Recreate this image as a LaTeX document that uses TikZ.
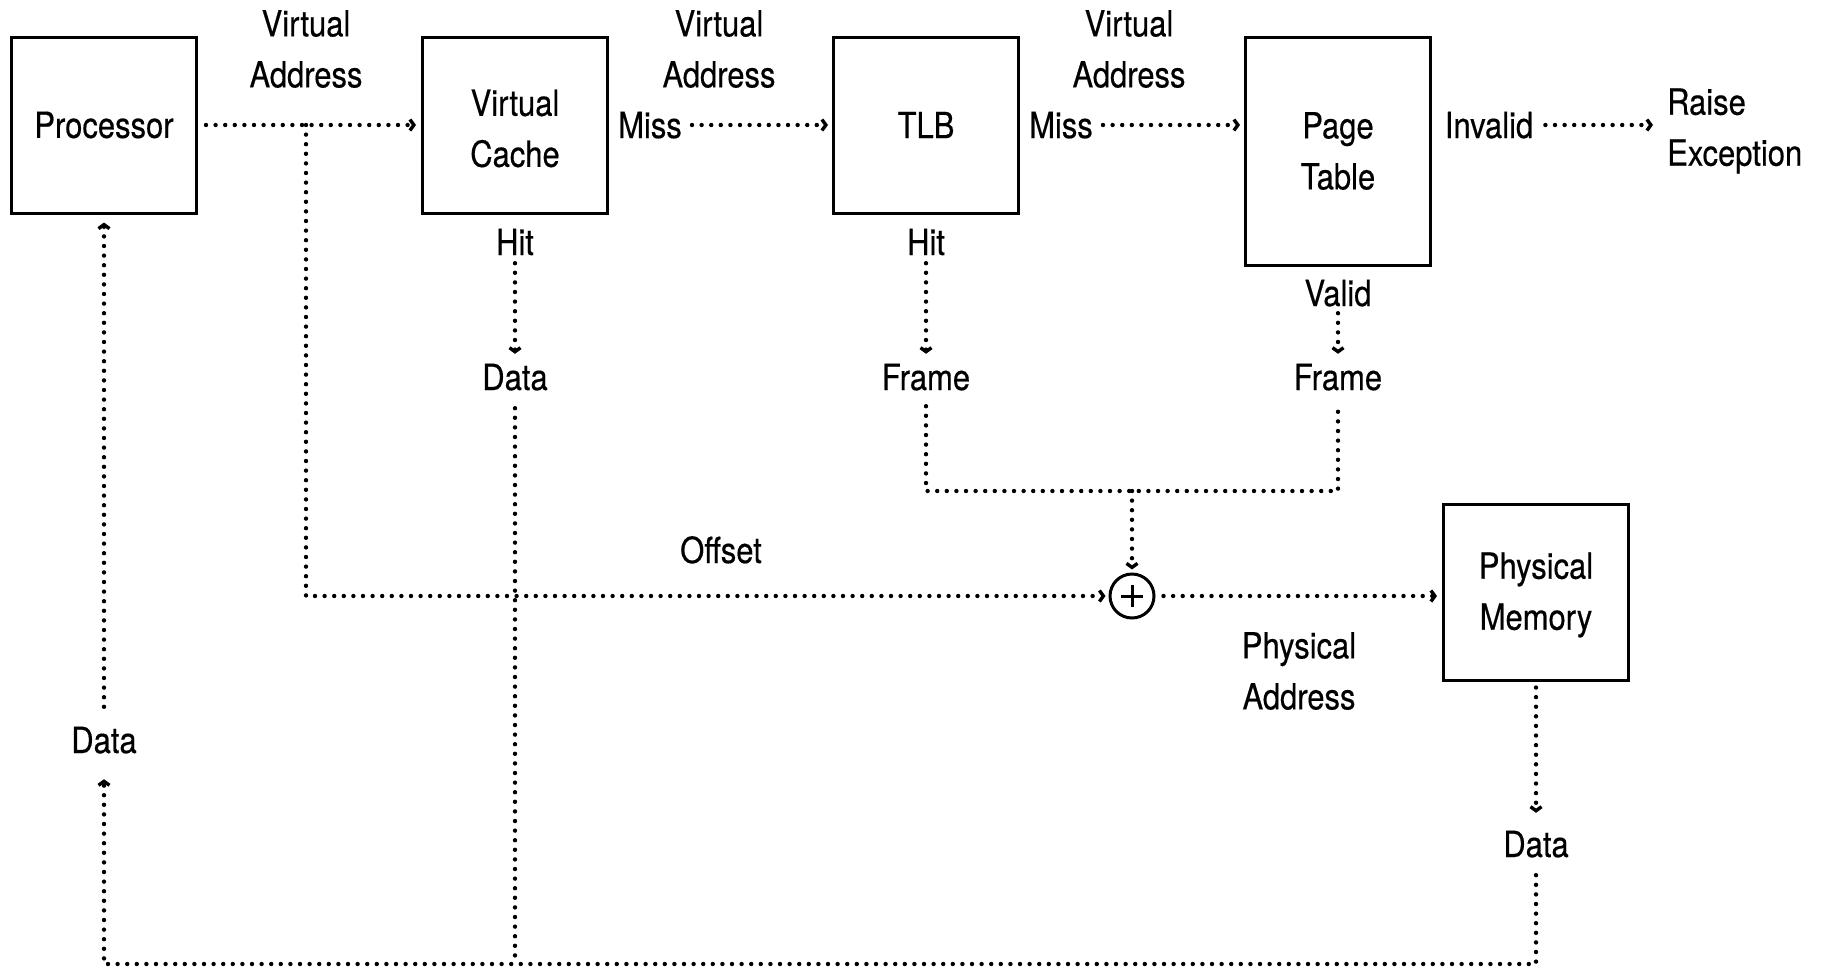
\documentclass[tikz,border=0pt]{standalone}
\usepackage{fontspec}
\setmainfont{TeX Gyre Heros}[FakeStretch=0.86,FakeBold=0.4]
\usetikzlibrary{arrows.meta}
\begin{document}
\begin{tikzpicture}[x=1pt,y=-1pt,
 every node/.style={font=\fontsize{36}{51}\selectfont},
 box/.style={draw,line width=3pt,minimum width=185pt,minimum height=176pt,inner sep=0pt,align=center},
 lbl/.style={inner sep=0pt,align=center},
 one/.style={inner sep=0pt,text height=26pt,text depth=0pt},
 con/.style={line width=4.4pt,line cap=round,dash pattern=on 0pt off 9.6pt},
 arr/.style={con,-{Straight Barb[length=4pt,width=11pt,line width=3.4pt]}}]
\useasboundingbox (0,0) rectangle (1830,969);
% boxes
\node[box] (proc) at (104,125) {Processor};
\node[box,label={[lbl,yshift=-3.5pt]center:Virtual\\Cache}] (vc) at (515,125) {};
\node[box] (tlb) at (926,125) {TLB};
\node[box,minimum height=228pt] (pt) at (1338,151) {Page\\Table};
\node[box,label={[lbl,yshift=-3pt]center:Physical\\Memory}] (pm) at (1536,592) {};
% labels
\node[lbl] (va1) at (306,49) {Virtual\\Address};
\node[lbl] (va2) at (719,49) {Virtual\\Address};
\node[lbl] (va3) at (1129,49) {Virtual\\Address};
\node[one] (miss1) at (650,125) {Miss};
\node[one] (miss2) at (1061,125) {Miss};
\node[one] (inv) at (1489,125) {Invalid};
\node[lbl,align=left,anchor=west] (exc) at (1667,131) {Raise\\Exception};
\node[one] (hit1) at (515,242) {Hit};
\node[one] (data1) at (515,377) {Data};
\node[one] (hit2) at (926,242) {Hit};
\node[one] (fr1) at (926,377) {Frame};
\node[one] (valid) at (1338,293) {Valid};
\node[one] (fr2) at (1338,377) {Frame};
\node[one] (off) at (721,550) {Offset};
\node[lbl] (pa) at (1299,671) {Physical\\Address};
\node[one] (data2) at (1536,844) {Data};
\node[one] (data3) at (104,740) {Data};
\node[draw,circle,line width=3pt,minimum size=44pt,inner sep=0pt] (plus) at (1132,596) {};
\draw[line width=3pt] ([xshift=-11pt]plus.center) -- ([xshift=11pt]plus.center)
  ([yshift=-11pt]plus.center) -- ([yshift=11pt]plus.center);
% coordinates
\coordinate (br) at (306,125);
\coordinate (j) at (1132,491);
\coordinate (bl) at (104,964);
% connectors
\draw[arr,shorten <=8pt,shorten >=5pt] (proc.east) -- (vc.west);
\draw[arr,shorten <=10pt,shorten >=4pt] (miss1.east) -- (tlb.west);
\draw[arr,shorten <=10pt,shorten >=4pt] (miss2.east) -- (pt.west |- miss2.east);
\draw[arr,shorten <=12pt,shorten >=14pt] (inv.east) -- (exc.west |- inv.east);
\draw[arr,shorten >=3pt] (br) |- (plus.west);
\draw[arr,shorten <=8pt,shorten >=10pt] (hit1.south) -- (data1.north);
\draw[arr,shorten <=8pt,shorten >=10pt] (hit2.south) -- (fr1.north);
\draw[arr,shorten <=7pt,shorten >=10pt] (valid.south) -- (fr2.north);
\draw[con,shorten <=16pt,shorten >=16pt] (fr1.south) |- (j) -| (fr2.south);
\draw[arr,shorten >=3pt] (j) -- (plus.north);
\draw[arr,shorten <=8pt,shorten >=5pt] (plus.east) -- (pm.west |- plus.east);
\draw[arr,shorten <=6pt,shorten >=18pt] (pm.south) -- (data2.north);
\draw[arr,shorten <=18pt,shorten >=26pt] (data2.south) |- (bl) -- (data3.south);
\draw[arr,shorten <=20pt,shorten >=8pt] (data3.north) -- (proc.south);
\draw[con,shorten <=18pt] (data1.south) -- (data1.south |- bl);
\end{tikzpicture}
\end{document}
